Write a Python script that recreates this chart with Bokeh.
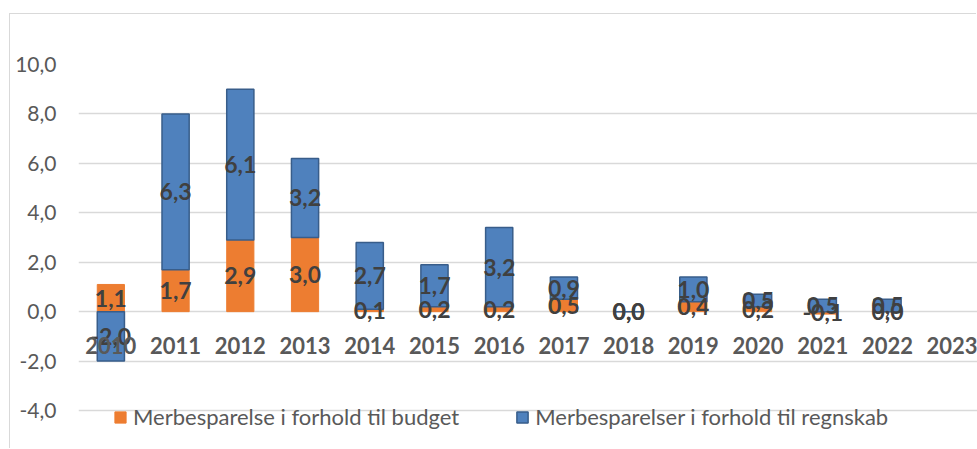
import numpy as np
from bokeh.plotting import figure
from bokeh.models import Range1d, FixedTicker, ColumnDataSource, Legend, LegendItem
from bokeh.embed import file_html
from bokeh.resources import INLINE
from bokeh.core.properties import value

# ---- data ----
years = ["2010", "2011", "2012", "2013", "2014", "2015", "2016",
         "2017", "2018", "2019", "2020", "2021", "2022", "2023"]
budget = [1.1, 1.7, 2.9, 3.0, 0.1, 0.2, 0.2, 0.5, 0.0, 0.4, 0.2, -0.1, 0.0, None]
regnskab = [-2.0, 6.3, 6.1, 3.2, 2.7, 1.7, 3.2, 0.9, 0.0, 1.0, 0.5, 0.5, 0.5, None]
y_ticks = [-4, -2, 0, 2, 4, 6, 8, 10]
series_names = ["Merbesparelse i forhold til budget", "Merbesparelser i forhold til regnskab"]

ORANGE = "#ED7D31"
BLUE = "#4F81BD"
BLUE_EDGE = "#385D8A"
FONT = "Lato"

x = np.arange(len(years), dtype=float)
b = np.array(budget, dtype=float)
r = np.array(regnskab, dtype=float)
ok = ~np.isnan(b)

# Excel-style stacking: positives on positives, negatives on negatives
b_bottom = np.zeros_like(b)
b_top = b
pos_base = np.where(b > 0, b, 0.0)
neg_base = np.where(b < 0, b, 0.0)
r_bottom = np.where(r >= 0, pos_base, neg_base)
r_top = r_bottom + r


def fmt(v):
    return f"{v:.1f}".replace(".", ",")


src_b = ColumnDataSource(dict(x=x[ok], bottom=b_bottom[ok], top=b_top[ok],
                              mid=((b_bottom + b_top) / 2)[ok],
                              lab=[fmt(v) for v in b[ok]]))
src_r = ColumnDataSource(dict(x=x[ok], bottom=r_bottom[ok], top=r_top[ok],
                              mid=((r_bottom + r_top) / 2)[ok],
                              lab=[fmt(v) for v in r[ok]]))

p = figure(width=967, height=435,
           x_range=Range1d(-0.5, 13.39), y_range=Range1d(-4.89, 10),
           output_backend="svg", toolbar_location=None,
           min_border_left=68, min_border_right=0,
           min_border_top=50, min_border_bottom=17)
p.margin = (14, 0, 0, 10)
p.styles = {"box-shadow": "-1px -1px 0 0 #d9d9d9"}
p.outline_line_color = None
p.background_fill_color = "white"
p.border_fill_color = "white"

rb = p.vbar(x="x", bottom="bottom", top="top", width=0.42, source=src_b,
            fill_color=ORANGE, line_color=ORANGE, line_width=1)
rr = p.vbar(x="x", bottom="bottom", top="top", width=0.42, source=src_r,
            fill_color=BLUE, line_color=BLUE_EDGE, line_width=1.5)

# data labels
for src in (src_b, src_r):
    p.text(x="x", y="mid", text="lab", source=src,
           text_font=value(FONT), text_font_style="bold",
           text_font_size="23px", text_color="#404040",
           text_align="center", text_baseline="middle")

# axes
xa = p.xaxis[0]
xa.fixed_location = 0
xa.ticker = FixedTicker(ticks=list(x))
xa.major_label_overrides = {int(i): yr for i, yr in zip(x, years)}
xa.axis_line_color = None
xa.major_tick_line_color = None
xa.minor_tick_line_color = None
xa.major_tick_out = 0
xa.major_tick_in = 0
xa.major_label_standoff = 25
xa.major_label_text_font = FONT
xa.major_label_text_font_style = "bold"
xa.major_label_text_font_size = "22px"
xa.major_label_text_color = "#595959"

ya = p.yaxis[0]
ya.ticker = FixedTicker(ticks=y_ticks)
ya.major_label_overrides = {t: fmt(t) for t in y_ticks}
ya.axis_line_color = None
ya.major_tick_line_color = None
ya.minor_tick_line_color = None
ya.major_tick_out = 0
ya.major_tick_in = 0
ya.major_label_standoff = 22
ya.major_label_text_font = FONT
ya.major_label_text_font_size = "21px"
ya.major_label_text_color = "#595959"

p.xgrid.visible = False
p.ygrid.ticker = FixedTicker(ticks=y_ticks)
p.ygrid.grid_line_color = "#D9D9D9"
p.ygrid.grid_line_width = 1.5

legend = Legend(items=[LegendItem(label=series_names[0], renderers=[rb]),
                       LegendItem(label=series_names[1], renderers=[rr])],
                orientation="horizontal", location=(35, 2),
                padding=0, margin=0, spacing=56, label_standoff=6,
                glyph_width=14, glyph_height=14,
                label_text_font=FONT, label_text_font_size="22px",
                label_text_color="#595959",
                background_fill_alpha=0, border_line_color=None)
p.add_layout(legend)

open("out.html", "w").write(file_html(p, INLINE))
